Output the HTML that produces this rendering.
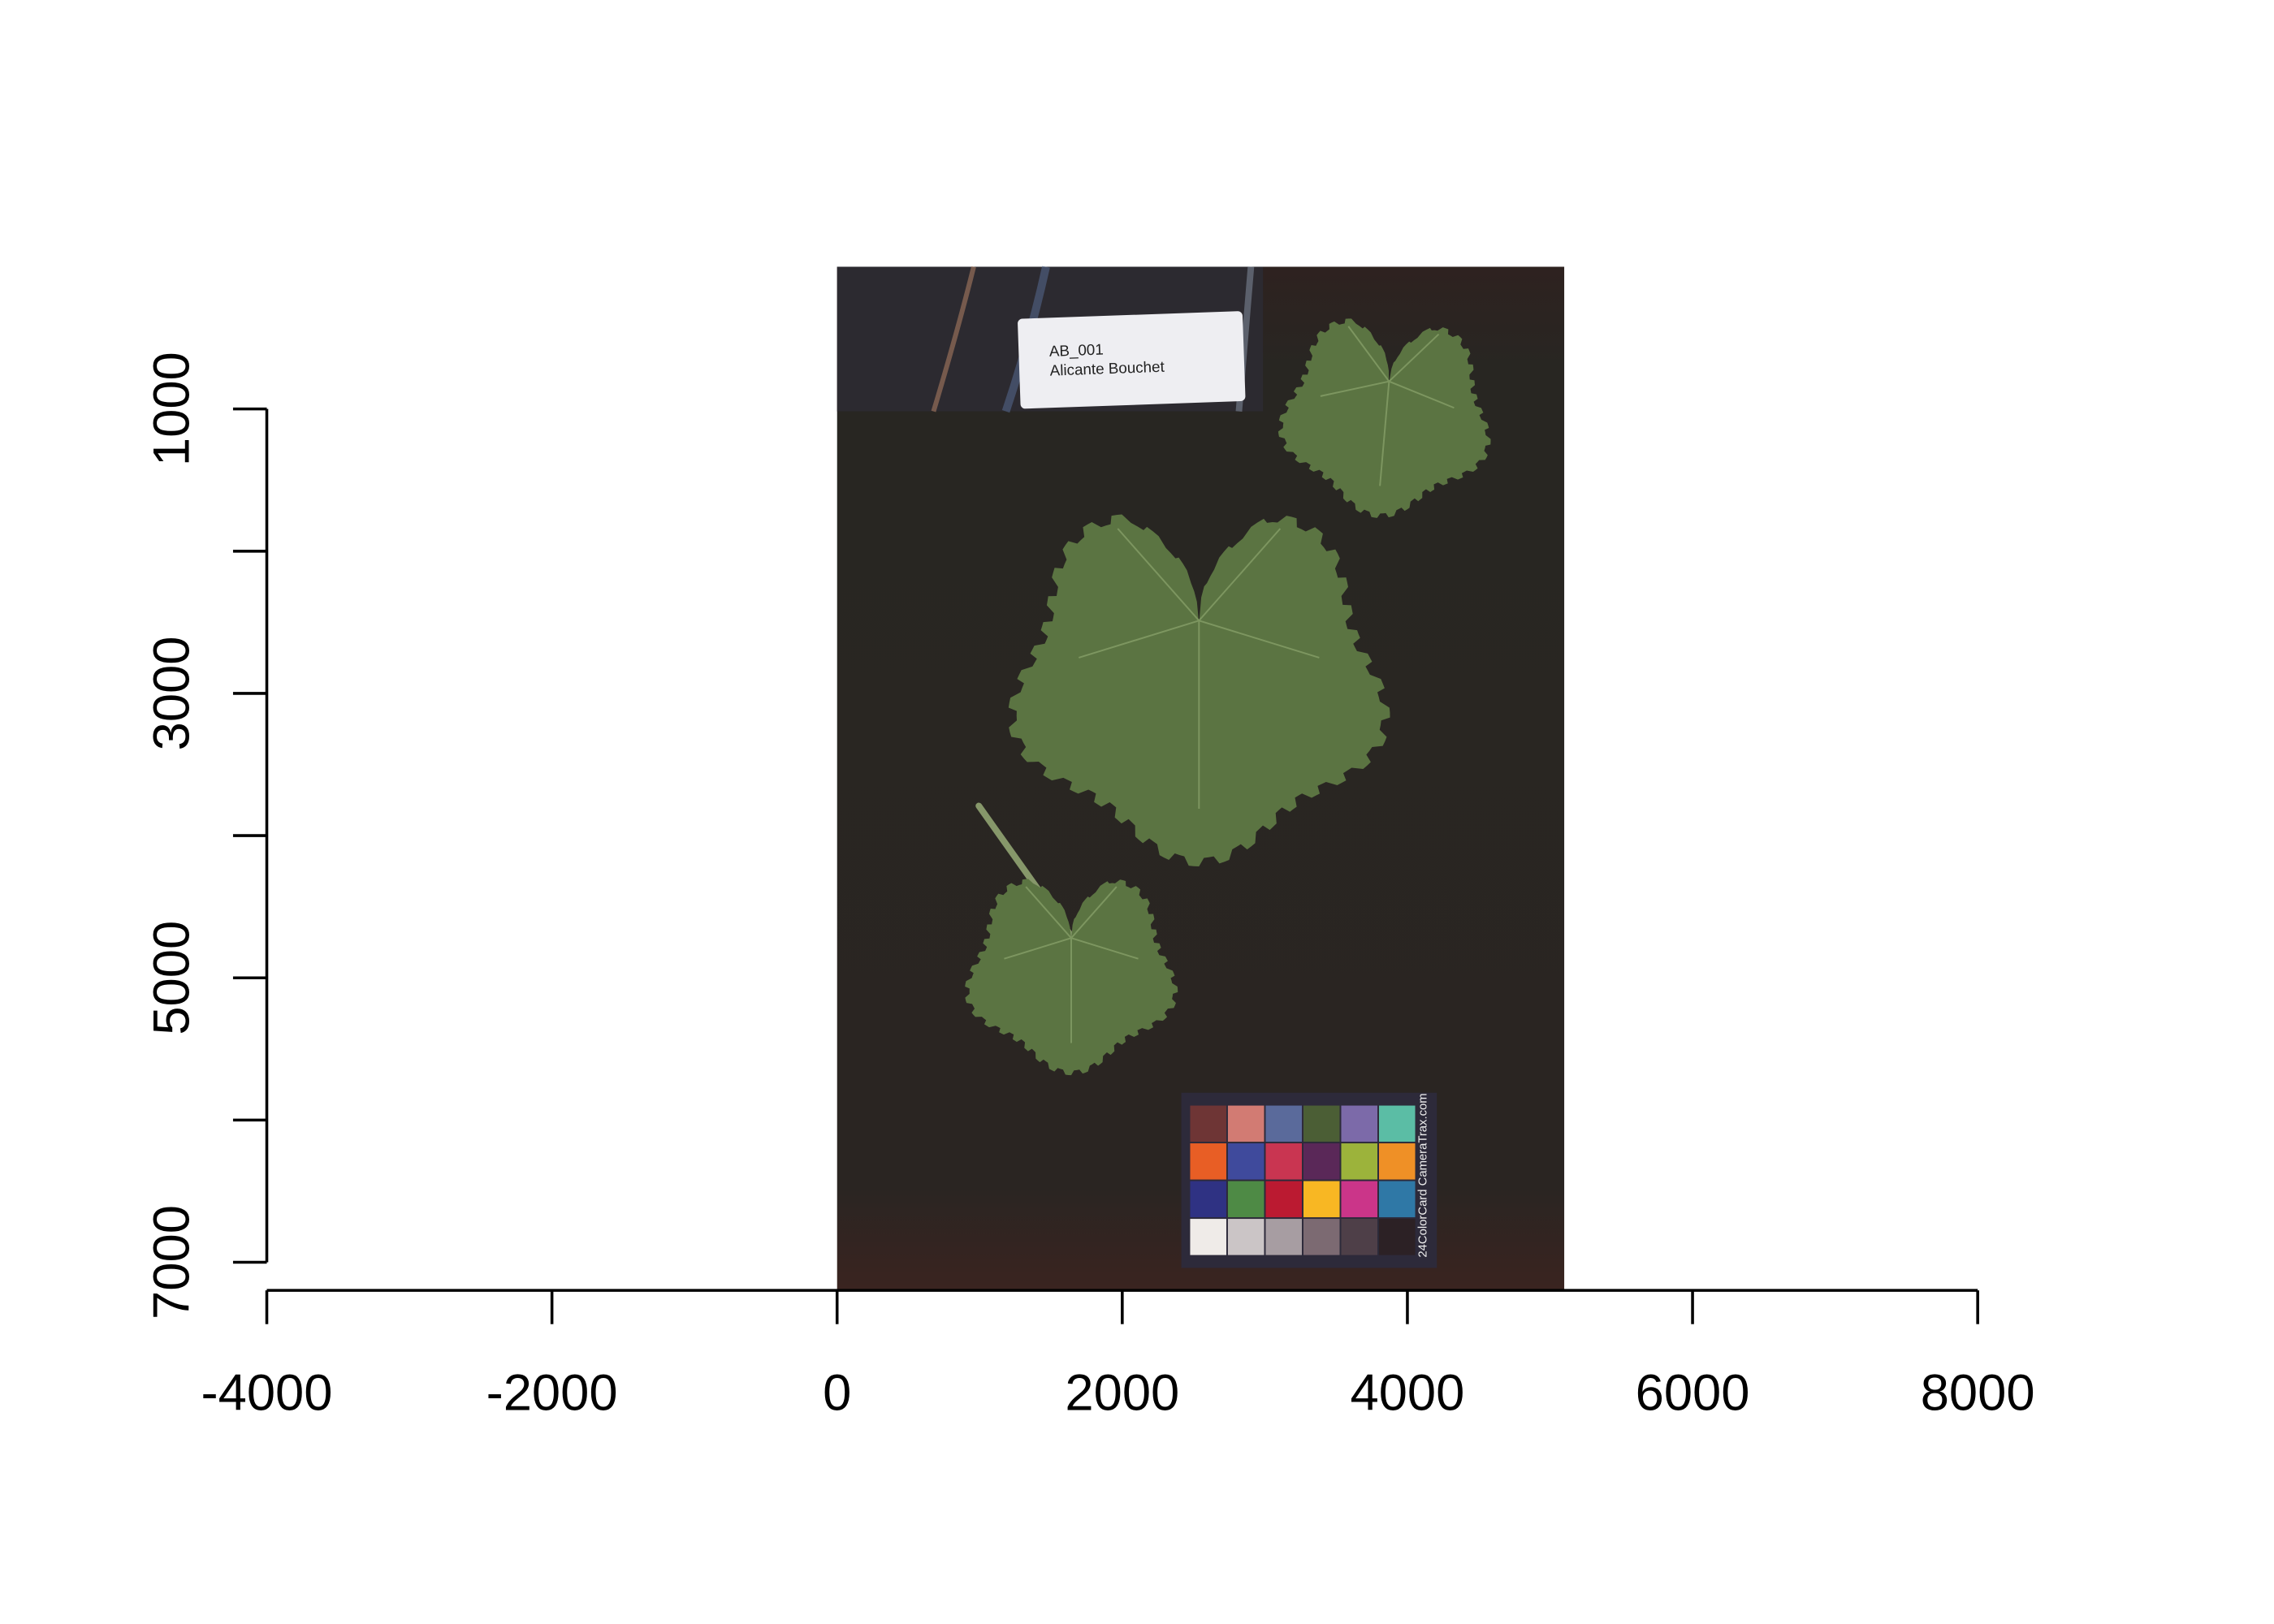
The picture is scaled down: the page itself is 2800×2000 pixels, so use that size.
<!DOCTYPE html>
<html><head><meta charset="utf-8"><style>
html,body{margin:0;padding:0;background:#fff;}
svg{display:block;font-family:"Liberation Sans",Arial,sans-serif;}
</style></head><body>
<svg id="chart" width="2800" height="2000" viewBox="0 0 2800 2000" xmlns="http://www.w3.org/2000/svg">
<rect width="2800" height="2000" fill="#fff"/>
<g transform="scale(0.9895)">
<g id="img"></g>
<g id="axes"></g>
</g>
</svg>
<script>
const xTicks = [-4000, -2000, 0, 2000, 4000, 6000, 8000];
const yTicks = [1000, 2000, 3000, 4000, 5000, 6000, 7000];
const yLabels = [1000, 3000, 5000, 7000];
const imgExtent = [0, 5100, 0, 7190]; // xmin,xmax,ymin,ymax in data units
const cardColors = ["#6e3535","#d27b73","#5a6a9b","#4b5e35","#7c6aa9","#5bbda5",
"#e85e25","#3f4a9c","#c93551","#5a2858","#9cb33b","#ef9026",
"#2f3283","#4e8a45","#bb1a31","#f8b723","#cb3589","#2f78a6",
"#efebe8","#cbc5c6","#a79da2","#7c6a72","#4e3f48","#2c2125"];
const NS="http://www.w3.org/2000/svg";
const sx = v => 332 + (v + 4000) * (2461 - 332) / 12000;
const sy = v => 509 + (v - 1000) * (1571 - 509) / 6000;
function el(tag, attrs, parent){const e=document.createElementNS(NS,tag);for(const k in attrs)e.setAttribute(k,attrs[k]);parent.appendChild(e);return e;}
const img=document.getElementById('img'), ax=document.getElementById('axes');
const X0=sx(imgExtent[0]),X1=sx(imgExtent[1]),Y0=sy(imgExtent[2]),Y1=sy(imgExtent[3]);
const defs=el('defs',{},img);
const lg=el('linearGradient',{id:'bg',x1:0,y1:0,x2:0,y2:1},defs);
el('stop',{offset:0,'stop-color':'#2e2220'},lg);el('stop',{offset:0.1,'stop-color':'#282622'},lg);
el('stop',{offset:0.9,'stop-color':'#2a2522'},lg);el('stop',{offset:1,'stop-color':'#3a2420'},lg);
let r=el('rect',{x:X0,y:Y0,width:X1-X0,height:Y1-Y0,fill:'url(#bg)'},img);

let bag=el('rect',{x:X0,y:Y0,width:530,height:180,fill:'#2c2a30'},img);

el('path',{d:`M${X0+120} ${Y0+180} Q${X0+150} ${Y0+80} ${X0+170} ${Y0}`,stroke:'#c08a6a','stroke-width':6,fill:'none',opacity:0.5},img);
el('path',{d:`M${X0+210} ${Y0+180} Q${X0+240} ${Y0+90} ${X0+260} ${Y0}`,stroke:'#5a6f9a','stroke-width':10,fill:'none',opacity:0.5},img);
el('path',{d:`M${X0+500} ${Y0+180} L${X0+515} ${Y0}`,stroke:'#8a96a8','stroke-width':8,fill:'none',opacity:0.5},img);
let lab=el('g',{transform:`rotate(-2 1408 447)`},img);

el('rect',{x:1268,y:392,width:280,height:112,rx:6,fill:'#eeeef2'},lab);
let t1=el('text',{x:1306,y:440,'font-size':19,fill:'#222'},lab);t1.textContent='AB_001';
let t2=el('text',{x:1306,y:464,'font-size':19,fill:'#222'},lab);t2.textContent='Alicante Bouchet';
function leaf(cx,cy,R,rot,name){
  const g=el('g',{transform:`rotate(${rot} ${cx} ${cy})`},img);
  
  let pts=[];const N=240;
  for(let i=0;i<N;i++){const t=i/N*2*Math.PI;
    let rr=R*(0.9-0.08*Math.cos(5*t)) + R*0.035*((i%6<3)?1:-0.3);
    const d=Math.abs(Math.atan2(Math.sin(t),Math.cos(t)));
    if(d<0.4) rr*=0.35+0.65*Math.sqrt(d/0.4);
    pts.push((cx+rr*Math.sin(t)).toFixed(1)+','+(cy-rr*Math.cos(t)*0.95).toFixed(1));}
  el('polygon',{points:pts.join(' '),fill:'#5b7442'},g);
  for(const a of [180,108,252,40,320]){const q=a*Math.PI/180;
    el('line',{x1:cx,y1:cy-R*0.3,x2:cx+R*0.65*Math.sin(q),y2:cy-R*0.3-R*0.65*Math.cos(q)*0.95+(a===180?R*0.35:0),stroke:'#7d9660','stroke-width':2},g);}
}
leaf(1725,515,135,5,'leaf-small-top');
leaf(1492,845,242,0,'leaf-large-center');
el('line',{x1:1218,y1:1003,x2:1333,y2:1165,stroke:'#86976a','stroke-width':8,'stroke-linecap':'round'},img);
leaf(1333,1208,135,0,'leaf-small-bottom');
let card=el('g',{},img);
el('rect',{x:1470,y:1360,width:318,height:218,fill:'#2d2a3a'},card);
cardColors.forEach((c,i)=>{const p=el('rect',{x:1481+(i%6)*47,y:1376+Math.floor(i/6)*47,width:45,height:45,fill:c},card);
  });
let ct=el('text',{x:1775,y:1565,'font-size':15,fill:'#eee',transform:'rotate(-90 1775 1565)'},card);ct.textContent='24ColorCard CameraTrax.com';
const st={stroke:'#000','stroke-width':3.6,fill:'none'};
let xl=el('line',Object.assign({x1:sx(xTicks[0]),y1:1606,x2:sx(xTicks[xTicks.length-1]),y2:1606},st),ax);

xTicks.forEach(v=>{el('line',Object.assign({x1:sx(v),y1:1606,x2:sx(v),y2:1648},st),ax);
  const t=el('text',{x:sx(v),y:1755,'font-size':64,'text-anchor':'middle'},ax);t.textContent=String(v);
  });
let yl=el('line',Object.assign({x1:332,y1:sy(yTicks[0]),x2:332,y2:sy(yTicks[yTicks.length-1])},st),ax);

yTicks.forEach(v=>{el('line',Object.assign({x1:290,y1:sy(v),x2:332,y2:sy(v)},st),ax);});
yLabels.forEach(v=>{const t=el('text',{x:235,y:sy(v),'font-size':64,'text-anchor':'middle',transform:`rotate(-90 235 ${sy(v)})`},ax);t.textContent=String(v);
  });
</script>
</body></html>
